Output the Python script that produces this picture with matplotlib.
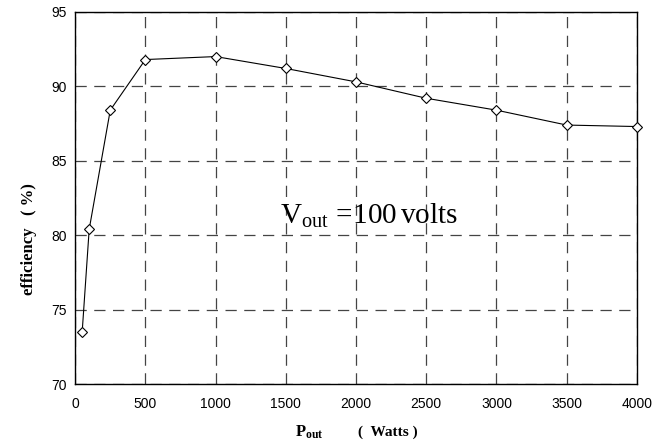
import numpy as np
import matplotlib
matplotlib.use("Agg")
import matplotlib.pyplot as plt

matplotlib.rcParams.update({
    "font.family": "Liberation Sans",
    "mathtext.fontset": "custom",
    "mathtext.rm": "Liberation Serif",
    "mathtext.it": "Liberation Serif:italic",
    "mathtext.bf": "Liberation Serif:bold",
})

p_out = [50, 100, 250, 500, 1000, 1500, 2000, 2500, 3000, 3500, 4000]
efficiency = [73.5, 80.4, 88.4, 91.8, 92.0, 91.2, 90.3, 89.2, 88.4, 87.4, 87.3]
x_ticks = [0, 500, 1000, 1500, 2000, 2500, 3000, 3500, 4000]
y_ticks = [70, 75, 80, 85, 90, 95]

fig = plt.figure(figsize=(6.68, 4.41), dpi=100)
ax = fig.add_axes([0.1125, 0.129, 0.841, 0.844])

ax.plot(p_out, efficiency, color="black", lw=0.8, marker="D", ms=5.5,
        mfc="white", mec="black", mew=0.8, clip_on=False, zorder=3)

ax.set_xlim(0, 4000)
ax.set_ylim(70, 95)
ax.set_xticks(x_ticks)
ax.set_yticks(y_ticks)
ax.tick_params(length=0, labelsize=10)
ax.tick_params(axis="x", pad=9)
ax.tick_params(axis="y", pad=6)
ax.grid(True, color="#444444", ls=(0, (9, 6)), lw=0.9)
for s in ax.spines.values():
    s.set_linewidth(1.0)

# annotation inside the plot
ax.text(1455, 81.3, r"$\mathrm{V_{out}\,=\!100\,volts}$", fontsize=21,
        va="center", ha="left")

fig.text(0.442, 0.011, r"$\mathbf{P_{out}}$", fontsize=12, ha="left", va="baseline")
fig.text(0.536, 0.011, "(  Watts )", fontsize=11, fontweight="bold",
         family="Liberation Serif", ha="left", va="baseline")
fig.text(0.043, 0.459, "efficiency   ( %)", fontsize=12, fontweight="bold",
         family="Liberation Serif", rotation=90, ha="center", va="center")

fig.savefig("out.png", dpi=100)
